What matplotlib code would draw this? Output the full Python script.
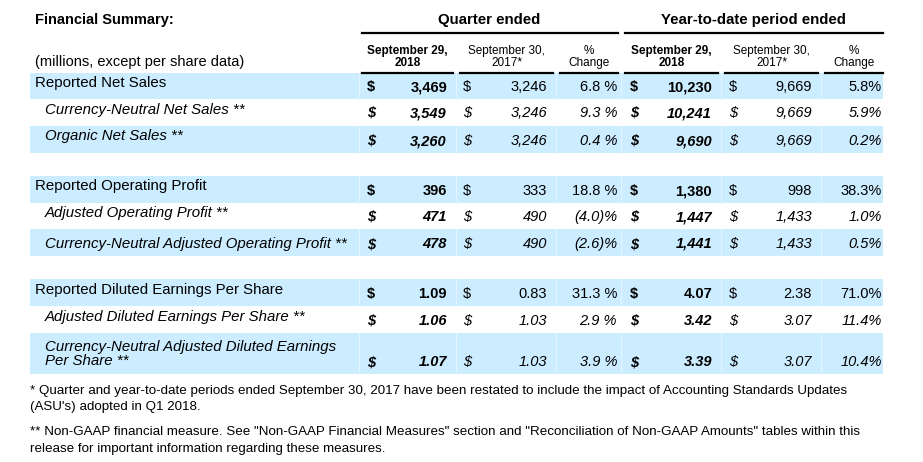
import matplotlib
matplotlib.use("Agg")
import matplotlib.pyplot as plt
from matplotlib.patches import Rectangle

plt.rcParams["font.family"] = ["Liberation Sans", "DejaVu Sans"]

# ---- data ----
labels = [
    "Reported Net Sales",
    "Currency-Neutral Net Sales **",
    "Organic Net Sales **",
    "Reported Operating Profit",
    "Adjusted Operating Profit **",
    "Currency-Neutral Adjusted Operating Profit **",
    "Reported Diluted Earnings Per Share",
    "Adjusted Diluted Earnings Per Share **",
    "Currency-Neutral Adjusted Diluted Earnings\nPer Share **",
]
reported = [True, False, False, True, False, False, True, False, False]
q_2018 = ["3,469", "3,549", "3,260", "396", "471", "478", "1.09", "1.06", "1.07"]
q_2017 = ["3,246", "3,246", "3,246", "333", "490", "490", "0.83", "1.03", "1.03"]
q_chg = ["6.8 %", "9.3 %", "0.4 %", "18.8 %", "(4.0)%", "(2.6)%", "31.3 %", "2.9 %", "3.9 %"]
ytd_2018 = ["10,230", "10,241", "9,690", "1,380", "1,447", "1,441", "4.07", "3.42", "3.39"]
ytd_2017 = ["9,669", "9,669", "9,669", "998", "1,433", "1,433", "2.38", "3.07", "3.07"]
ytd_chg = ["5.8%", "5.9%", "0.2%", "38.3%", "1.0%", "0.5%", "71.0%", "11.4%", "10.4%"]

col_headers = ["September 29,\n2018", "September 30,\n2017*", "%\nChange",
               "September 29,\n2018", "September 30,\n2017*", "%\nChange"]
group_headers = ["Quarter ended", "Year-to-date period ended"]
footnotes = [
    "* Quarter and year-to-date periods ended September 30, 2017 have been restated to include the impact of Accounting Standards Updates",
    "(ASU's) adopted in Q1 2018.",
    "** Non-GAAP financial measure. See \"Non-GAAP Financial Measures\" section and \"Reconciliation of Non-GAAP Amounts\" tables within this",
    "release for important information regarding these measures.",
]

# ---- layout (pixels) ----
SHADE = "#CCECFF"
row_top = [73, 99, 126, 176, 203, 229, 279, 306, 333]
row_bot = [99, 126, 153, 203, 229, 256, 306, 333, 374]
shaded = [True, False, True, True, False, True, True, False, True]
label_y = [83, 110, 136, 186, 213, 244, 290, 317, 354]
value_y = [87, 113, 141, 191, 217, 244, 294, 321, 362]
col_left = [362, 460, 560, 625, 725, 825]
col_right = [453, 553, 618, 718, 818, 883]
val_right = [447, 547, 617, 712, 812, 882]
dollar_x = [367, 463, None, 630, 729, None]
col_bold = [True, False, False, True, False, False]

fig = plt.figure(figsize=(9.23, 4.62), dpi=100)
ax = fig.add_axes([0, 0, 1, 1])
ax.set_xlim(0, 923)
ax.set_ylim(462, 0)
ax.axis("off")

# shaded bands
for top, bot, sh in zip(row_top, row_bot, shaded):
    if sh:
        ax.add_patch(Rectangle((30, top), 883 - 30, bot - top, color=SHADE, lw=0))
        for xb in [359, 456, 556, 621, 721, 821]:
            ax.plot([xb, xb], [top, bot], color="#E2F4FF", lw=0.8)

# titles
ax.text(35, 20, "Financial Summary:", fontsize=10.5, fontweight="bold", va="center")
ax.text(35, 62, "(millions, except per share data)", fontsize=10.5, va="center")
ax.text(489, 20, group_headers[0], fontsize=10.8, fontweight="bold", ha="center", va="center")
ax.text(753, 20, group_headers[1], fontsize=10.8, fontweight="bold", ha="center", va="center")
ax.plot([362, 618], [33, 33], color="black", lw=1.6)
ax.plot([625, 883], [33, 33], color="black", lw=1.6)

for i, h in enumerate(col_headers):
    cx = (col_left[i] + col_right[i]) / 2
    ax.text(cx, 57, h, fontsize=8.5, ha="center", va="center", linespacing=0.9,
            fontweight="bold" if col_bold[i] else "normal")
    ax.plot([col_left[i], col_right[i]], [73, 73], color="black", lw=1.6)

# rows
columns = [q_2018, q_2017, q_chg, ytd_2018, ytd_2017, ytd_chg]
for r, lab in enumerate(labels):
    style = "normal" if reported[r] else "italic"
    ax.text(35 if reported[r] else 45, label_y[r], lab, fontsize=10.8, style=style,
            va="center", linespacing=1.0)
    for c, col in enumerate(columns):
        w = "bold" if col_bold[c] else "normal"
        if dollar_x[c] is not None:
            ax.text(dollar_x[c], value_y[r], "$", fontsize=10.5, style=style, fontweight=w,
                    va="center")
        ax.text(val_right[c], value_y[r], col[r], fontsize=10.5, style=style, fontweight=w,
                ha="right", va="center")

# footnotes
for y, t in zip([391, 407, 432, 449], footnotes):
    ax.text(30, y, t, fontsize=9.6, va="center")

fig.savefig("out.png", dpi=100)
